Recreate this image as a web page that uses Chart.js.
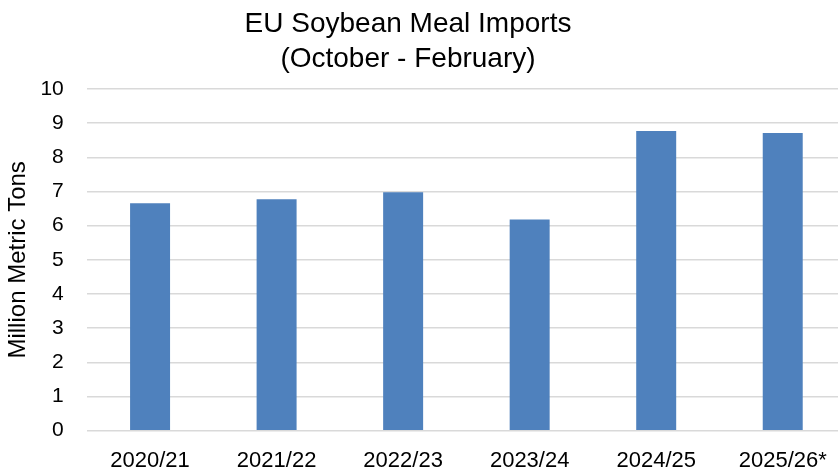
<!DOCTYPE html>
<html>
<head>
<meta charset="utf-8">
<script src="https://cdn.jsdelivr.net/npm/chart.js@4"></script>
<style>
  html, body { margin: 0; padding: 0; background: #fff; overflow: hidden; }
  #wrap { width: 838px; height: 470px; overflow: hidden; }
</style>
</head>
<body>
<div id="wrap"><canvas id="soy-chart" width="846" height="470"></canvas></div>
<script>
// EU soybean meal imports, Oct-Feb, million metric tons
const seasons = ["2020/21", "2021/22", "2022/23", "2023/24", "2024/25", "2025/26*"];
const imports = [6.66, 6.77, 6.98, 6.18, 8.77, 8.71];
const titleLines = ["EU Soybean Meal Imports", "(October - February)"];
const yTitle = "Million Metric Tons";

const FONT = "'Liberation Sans', Arial, sans-serif";

// the source image is cropped on the right, so the title sits left of canvas centre
const shiftTitle = {
  id: "shiftTitle",
  afterLayout(chart) {
    if (chart.titleBlock) {
      chart.titleBlock.left = 0;
      chart.titleBlock.right = 816;
    }
  },
};

const ctx = document.getElementById("soy-chart").getContext("2d");
new Chart(ctx, {
  type: "bar",
  data: {
    labels: seasons,
    datasets: [
      {
        data: imports,
        backgroundColor: "#4F81BD",
        borderWidth: 0,
        categoryPercentage: 1,
        barPercentage: 0.316,
      },
    ],
  },
  options: {
    responsive: false,
    animation: false,
    layout: { padding: 0 },
    plugins: {
      legend: { display: false },
      tooltip: { enabled: false },
      title: {
        display: true,
        text: titleLines,
        color: "#000",
        font: { family: FONT, size: 28, weight: "normal", lineHeight: "35px" },
        padding: { top: 7, bottom: 12 },
      },
    },
    scales: {
      x: {
        grid: { display: false, drawTicks: false },
        border: { display: false },
        ticks: {
          color: "#000",
          font: { family: FONT, size: 22 },
          padding: 17,
          maxRotation: 0,
        },
        afterFit(scale) {
          scale.height = 39.3;
        },
      },
      y: {
        min: 0,
        max: 10,
        grid: { color: "#d9d9d9", lineWidth: 1.5, drawTicks: false },
        border: { display: false },
        ticks: {
          stepSize: 1,
          color: "#000",
          font: { family: FONT, size: 21 },
          padding: 23,
        },
        title: {
          display: true,
          text: yTitle,
          color: "#000",
          font: { family: FONT, size: 24 },
          padding: { top: 4, bottom: 0 },
        },
        afterFit(scale) {
          scale.width = 86.8;
        },
      },
    },
  },
  plugins: [shiftTitle],
});
</script>
</body>
</html>
